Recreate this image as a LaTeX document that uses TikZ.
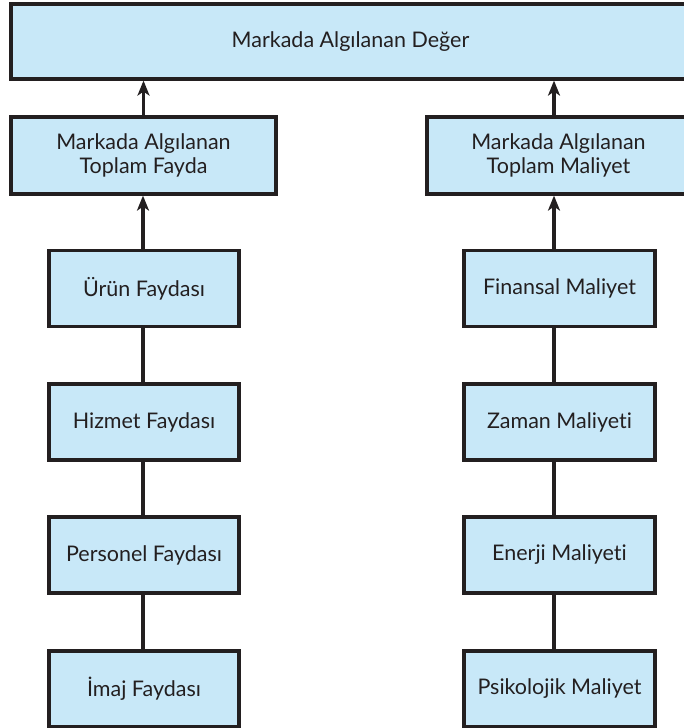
\documentclass[tikz,border=0pt]{standalone}
\usepackage{fontspec}
\setmainfont{Lato}[Ligatures=NoCommon]
\usetikzlibrary{arrows.meta}
\definecolor{boxfill}{RGB}{200,232,248}
\definecolor{ink}{RGB}{35,31,32}
\begin{document}
\begin{tikzpicture}[x=1pt,y=-1pt,
  box/.style={draw=ink,fill=boxfill,line width=3.2pt,text=ink,inner sep=0pt,
    font=\fontsize{21.5}{24}\selectfont,align=center},
  colbox/.style={box,minimum width=190pt,minimum height=76pt},
  link/.style={draw=ink,line width=3.2pt},
  arr/.style={link,-{Stealth[length=15pt,width=12pt,inset=4pt]}}]
\clip (0,0) rectangle (684,728);
\useasboundingbox (0,0) rectangle (684,728);
\fill[white] (0,0) rectangle (684,728);
% top
\node[box,minimum width=679pt,minimum height=75pt] (top) at (350.5,41.5) {Markada Algılanan Değer};
% second row
\node[box,minimum width=265pt,minimum height=77pt] (lsum) at (143.5,155.5) {Markada Algılanan\\Toplam Fayda};
\node[box,minimum width=263pt,minimum height=77pt] (rsum) at (558.5,155.5) {Markada Algılanan\\Toplam Maliyet};
% left column
\node[colbox] (urun) at (144,288.5) {Ürün Faydası};
\node[colbox] (hiz) at (144,422) {Hizmet Faydası};
\node[colbox] (per) at (144,555) {Personel Faydası};
\node[colbox] (ima) at (144,689) {İmaj Faydası};
% right column
\node[colbox,minimum width=191pt] (fin) at (559.5,288.5) {Finansal Maliyet};
\node[colbox,minimum width=191pt] (zam) at (559.5,422) {Zaman Maliyeti};
\node[colbox,minimum width=191pt] (ene) at (559.5,555) {Enerji Maliyeti};
\node[colbox,minimum width=191pt] (psi) at (559.5,689) {Psikolojik Maliyet};
% left connectors
\draw[link] ([xshift=-1pt]ima.north) -- ([xshift=-1pt]per.south);
\draw[link] ([xshift=-1pt]per.north) -- ([xshift=-1pt]hiz.south);
\draw[link] ([xshift=-1pt]hiz.north) -- ([xshift=-1pt]urun.south);
\draw[arr] ([xshift=-1pt]urun.north) -- ([xshift=-1pt]urun.north |- lsum.south);
\draw[arr] (lsum.north) -- (lsum.north |- top.south);
% right connectors
\draw[link] ([xshift=-5.5pt]psi.north) -- ([xshift=-5.5pt]ene.south);
\draw[link] ([xshift=-5.5pt]ene.north) -- ([xshift=-5.5pt]zam.south);
\draw[link] ([xshift=-5.5pt]zam.north) -- ([xshift=-5.5pt]fin.south);
\draw[arr] ([xshift=-5.5pt]fin.north) -- ([xshift=-5.5pt]fin.north |- rsum.south);
\draw[arr] ([xshift=-4.5pt]rsum.north) -- ([xshift=-4.5pt]rsum.north |- top.south);
\end{tikzpicture}
\end{document}
